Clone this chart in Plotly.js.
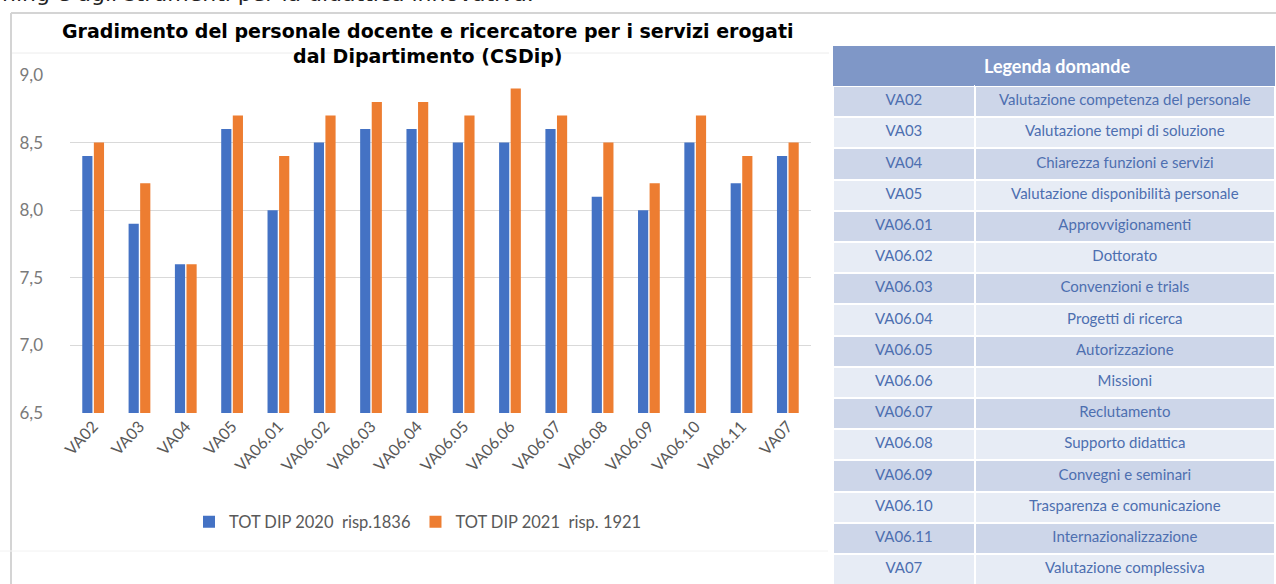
<!DOCTYPE html>
<html>
<head>
<meta charset="utf-8">
<script src="https://cdn.plot.ly/plotly-3.0.1.min.js"></script>
<style>
html,body{margin:0;padding:0;background:#fff;}
#chart{width:1276px;height:584px;}
</style>
</head>
<body>
<div id="chart"></div>
<script>
// ---- data ----
const categories = ["VA02","VA03","VA04","VA05","VA06.01","VA06.02","VA06.03","VA06.04","VA06.05","VA06.06","VA06.07","VA06.08","VA06.09","VA06.10","VA06.11","VA07"];
const series2020 = [8.4,7.9,7.6,8.6,8.0,8.5,8.6,8.6,8.5,8.5,8.6,8.1,8.0,8.5,8.2,8.4];
const series2021 = [8.5,8.2,7.6,8.7,8.4,8.7,8.8,8.8,8.7,8.9,8.7,8.5,8.2,8.7,8.4,8.5];
const seriesNames = ["TOT DIP 2020  risp.1836","TOT DIP 2021  risp. 1921"];
const yTicks = [6.5,7.0,7.5,8.0,8.5,9.0];
const legendCodes = categories.slice();
const legendDescriptions = ["Valutazione competenza del personale","Valutazione tempi di soluzione","Chiarezza funzioni e servizi","Valutazione disponibilità personale","Approvvigionamenti","Dottorato","Convenzioni e trials","Progetti di ricerca","Autorizzazione","Missioni","Reclutamento","Supporto didattica","Convegni e seminari","Trasparenza e comunicazione","Internazionalizzazione","Valutazione complessiva"];
const chartTitle = "<b>Gradimento del personale docente e ricercatore per i servizi erogati<br>dal Dipartimento (CSDip)</b>";
const tableTitle = "<b>Legenda domande</b>";
const topText = "ning e agli strumenti per la didattica innovativa.";

// ---- layout helpers (pixel -> paper) ----
const W = 1276, H = 584;
const px = x => x / W;
const py = y => (H - y) / H;

const rowFill = legendCodes.map((_, i) => i % 2 === 0 ? "#cdd6e9" : "#e7ecf5");

const traces = [
  {type:"bar", name:seriesNames[0], x:categories, y:series2020, marker:{color:"#4472c4"}},
  {type:"bar", name:seriesNames[1], x:categories, y:series2021, marker:{color:"#ed7d31"}},
  {type:"table",
   domain:{x:[px(833),1], y:[0, py(46)]},
   columnwidth:[142,301],
   header:{values:["",""], height:40, fill:{color:"#7f97c7"}, line:{color:"#7f97c7", width:0}},
   cells:{values:[legendCodes, legendDescriptions], height:31.2,
          fill:{color:[rowFill,rowFill]}, line:{color:"#ffffff", width:2},
          align:"center",
          font:{family:"Lato, 'Open Sans', sans-serif", size:15, color:"#4d6fb0"}}
  }
];

const layout = {
  width:W, height:H,
  margin:{l:0,r:0,t:0,b:0},
  paper_bgcolor:"#ffffff", plot_bgcolor:"#ffffff",
  barmode:"group", bargap:0.5, bargroupgap:0.12,
  separators:",.",
  showlegend:true,
  legend:{orientation:"h", x:px(418), xanchor:"center", y:py(522), yanchor:"middle",
          font:{family:"Lato, 'Open Sans', sans-serif", size:16.5, color:"#595959"},
          itemwidth:30, traceorder:"normal"},
  xaxis:{domain:[px(70), px(811)], type:"category", tickangle:-47,
         tickfont:{family:"Lato, 'Open Sans', sans-serif", size:16, color:"#595959"},
         showgrid:false, showline:false, ticks:"", automargin:false, fixedrange:true},
  yaxis:{domain:[py(413), py(75)], range:[6.5,9.0], tickvals:yTicks, tickformat:".1f",
         tickfont:{family:"Lato, 'Open Sans', sans-serif", size:17, color:"#7a7a7a"},
         gridcolor:"#d9d9d9", gridwidth:1, zeroline:false, showline:false, ticks:"",
         ticklabelstandoff:26, automargin:false, fixedrange:true},
  annotations:[
    {text:chartTitle, xref:"paper", yref:"paper", x:px(428), y:py(44), xanchor:"center", yanchor:"middle",
     showarrow:false, align:"center", font:{family:"'DejaVu Sans', Verdana, sans-serif", size:19, color:"#000000"}},
    {text:tableTitle, xref:"paper", yref:"paper", x:px(1057), y:py(66), xanchor:"center", yanchor:"middle",
     showarrow:false, font:{family:"Lato, 'Open Sans', sans-serif", size:18, color:"#ffffff"}},
    {text:topText, xref:"paper", yref:"paper", x:0, y:py(-21), xanchor:"left", yanchor:"top",
     showarrow:false, font:{family:"'DejaVu Sans', Verdana, sans-serif", size:22, color:"#222222"}}
  ],
  shapes:[
    {type:"line", xref:"paper", yref:"paper", x0:px(11), x1:1, y0:py(13), y1:py(13), line:{color:"#d4d4d4", width:2}},
    {type:"line", xref:"paper", yref:"paper", x0:px(11), x1:px(11), y0:py(13), y1:0, line:{color:"#d4d4d4", width:2}},
    {type:"line", xref:"paper", yref:"paper", x0:px(12), x1:px(829), y0:py(53), y1:py(53), line:{color:"#ececec", width:1}},
    {type:"line", xref:"paper", yref:"paper", x0:0, x1:px(828), y0:py(551), y1:py(551), line:{color:"#f2f2f2", width:1}}
  ]
};

Plotly.newPlot("chart", traces, layout, {displayModeBar:false, staticPlot:true});
</script>
</body>
</html>
